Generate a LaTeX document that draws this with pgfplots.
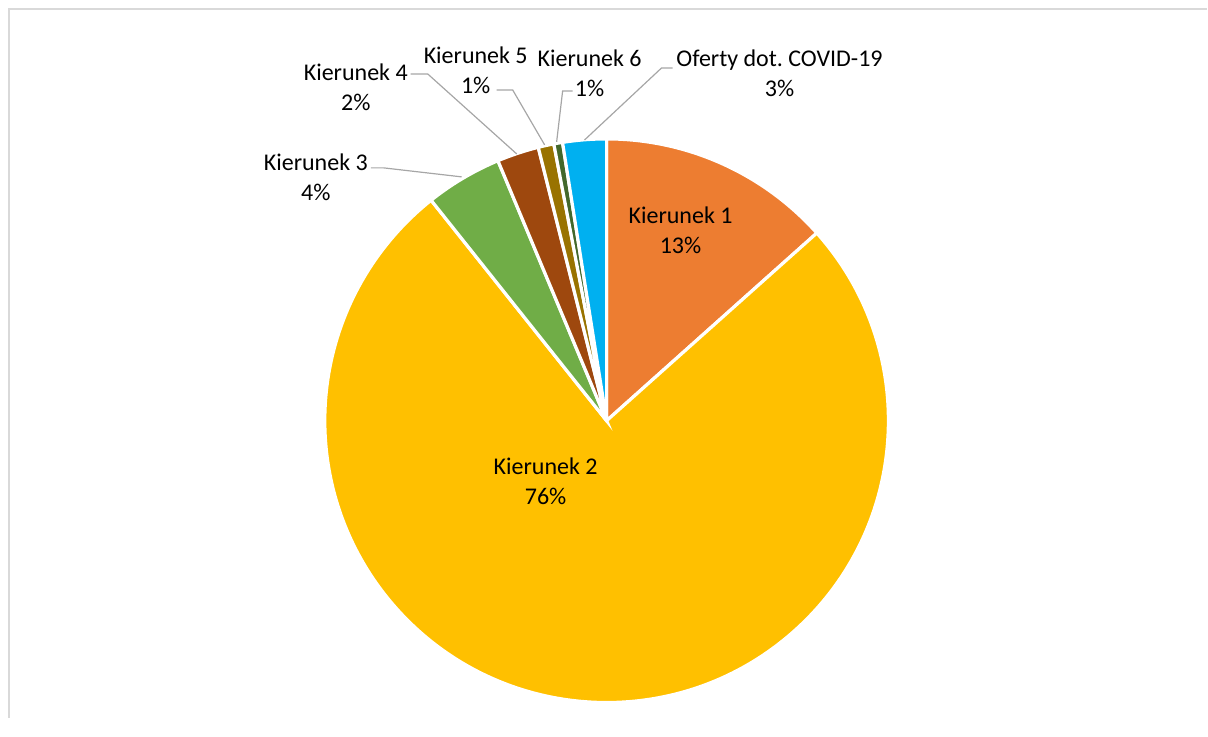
\documentclass[border=0pt]{standalone}
\usepackage{fontspec}
\setmainfont{Carlito}
\usepackage{pgfplots}
\usepackage{pgfplotstable}
\pgfplotsset{compat=1.18}

\definecolor{k1}{HTML}{ED7D31}
\definecolor{k2}{HTML}{FFC000}
\definecolor{k3}{HTML}{70AD47}
\definecolor{k4}{HTML}{9E480E}
\definecolor{k5}{HTML}{997300}
\definecolor{k6}{HTML}{43682B}
\definecolor{covid}{HTML}{00B0F0}
\definecolor{leader}{HTML}{A6A6A6}
\definecolor{frame}{HTML}{D9D9D9}

% share of each slice, clockwise from 12 o'clock
\pgfplotstableread[col sep=comma]{
label,value,color
Kierunek 1,13.4,k1
Kierunek 2,75.9,k2
Kierunek 3,4.4,k3
Kierunek 4,2.4,k4
Kierunek 5,0.9,k5
Kierunek 6,0.5,k6
Oferty dot. COVID-19,2.5,covid
}\piedata

\newcommand\lbl{\fontsize{12}{15}\selectfont}

\begin{document}
\begin{tikzpicture}
\begin{axis}[
    hide axis,
    x=0.5pt, y=0.5pt,
    xmin=0, xmax=1208,
    ymin=0, ymax=718,
    clip=false,
]
\path (axis cs:0,0) rectangle (axis cs:1208,718);
% chart area frame
\draw[frame, line width=0.8pt] (axis cs:9,0) -- (axis cs:9,709) -- (axis cs:1208,709);

% slices
\pgfplotsextra{
  \gdef\cum{0}
  \pgfplotstablegetrowsof{\piedata}
  \pgfmathtruncatemacro\lastrow{\pgfplotsretval-1}
  \foreach \i in {0,...,\lastrow}{
    \pgfplotstablegetelem{\i}{value}\of\piedata \let\v\pgfplotsretval
    \pgfplotstablegetelem{\i}{color}\of\piedata \let\c\pgfplotsretval
    \pgfmathsetmacro\a{90-3.6*\cum}
    \pgfmathsetmacro\b{90-3.6*(\cum+\v)}
    \fill[fill=\c, draw=white, line width=1.6pt]
      (axis cs:607,297) -- ++(\a:141pt)
      arc[start angle=\a, end angle=\b, radius=141pt] -- cycle;
    \pgfmathsetmacro\newcum{\cum+\v}
    \global\let\cum\newcum
  }
}

% leader lines
\draw[leader, line width=0.6pt] (axis cs:371,550) -- (axis cs:384,550) -- (axis cs:462,541);
\draw[leader, line width=0.6pt] (axis cs:411,644) -- (axis cs:428,644) -- (axis cs:517,564);
\draw[leader, line width=0.6pt] (axis cs:497,628) -- (axis cs:513,628) -- (axis cs:545,573);
\draw[leader, line width=0.6pt] (axis cs:573,627) -- (axis cs:563,627) -- (axis cs:557,576);
\draw[leader, line width=0.6pt] (axis cs:673,650) -- (axis cs:662,650) -- (axis cs:585,578);

% labels
\node[align=center, font=\lbl] at (axis cs:681,488) {Kierunek 1\\13\%};
\node[align=center, font=\lbl] at (axis cs:546,236) {Kierunek 2\\76\%};
\node[align=center, font=\lbl] at (axis cs:316,541) {Kierunek 3\\4\%};
\node[align=center, font=\lbl] at (axis cs:356,631) {Kierunek 4\\2\%};
\node[align=center, font=\lbl] at (axis cs:476,648) {Kierunek 5\\1\%};
\node[align=center, font=\lbl] at (axis cs:590,645) {Kierunek 6\\1\%};
\node[align=center, font=\lbl] at (axis cs:780,645) {Oferty dot.\ COVID-19\\3\%};
\end{axis}
\end{tikzpicture}
\end{document}
